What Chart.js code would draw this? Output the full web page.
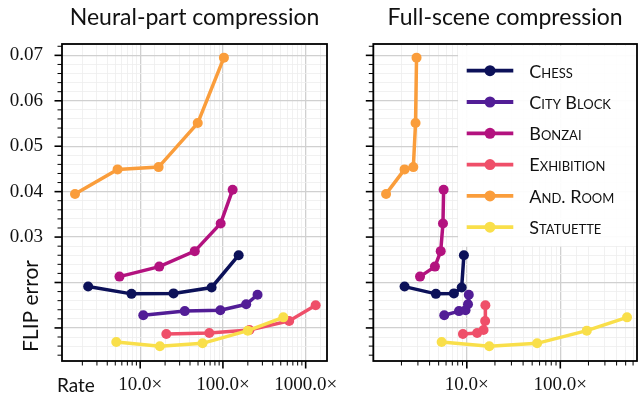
<!DOCTYPE html>
<html>
<head>
<meta charset="utf-8">
<script src="https://cdn.jsdelivr.net/npm/chart.js@4"></script>
<style>
  html, body { margin: 0; padding: 0; overflow: hidden; background: #fff; }
  #wrap { position: relative; width: 644px; height: 400px; overflow: hidden; }
  .pane { position: absolute; top: 0; }
</style>
</head>
<body>
<div id="wrap">
  <div class="pane" style="left:0"><canvas id="neural" width="340" height="400"></canvas></div>
  <div class="pane" style="left:340px"><canvas id="full" width="310" height="400"></canvas></div>
</div>
<script>
// scenes, in legend order
const scenes = ["Chess", "City Block", "Bonzai", "Exhibition", "And. Room", "Statuette"];
const colors = ["#0c1159", "#521d96", "#b3127f", "#ef4f69", "#fa9d3b", "#f9df4a"];

// FLIP error per scene (same settings in both panels)
const chessErr  = [0.0191, 0.0175, 0.0176, 0.0189, 0.0260];
const cityErr   = [0.0128, 0.0137, 0.0139, 0.0152, 0.0173];
const bonzaiErr = [0.0213, 0.0235, 0.0269, 0.0330, 0.0404];
const exhibErr  = [0.00866, 0.00888, 0.00955, 0.01153, 0.0150];
const roomErr   = [0.0395, 0.0449, 0.0454, 0.0551, 0.0695];
const statErr   = [0.0069, 0.00595, 0.00661, 0.0094, 0.01233];

// compression rates, neural part only
const chessNeural  = [2.35, 7.85, 25.3, 73.0, 155];
const cityNeural   = [10.9, 34.6, 93.1, 191, 262];
const bonzaiNeural = [5.62, 17.0, 45.7, 93.9, 131];
const exhibNeural  = [20.7, 68.5, 209, 632, 1321];
const roomNeural   = [1.63, 5.33, 16.7, 49.6, 102.8];
const statNeural   = [5.14, 17.3, 56.7, 200, 537];

// compression rates, full scene
const chessFull  = [2.16, 4.67, 7.28, 8.81, 9.31];
const cityFull   = [5.74, 8.26, 9.69, 10.3, 10.5];
const bonzaiFull = [3.16, 4.56, 5.26, 5.56, 5.65];
const exhibFull  = [9.09, 12.9, 15.1, 15.7, 15.8];
const roomFull   = [1.37, 2.16, 2.68, 2.83, 2.90];
const statFull   = [5.38, 17.4, 56.5, 192, 517];

const errors = [chessErr, cityErr, bonzaiErr, exhibErr, roomErr, statErr];
const neuralRates = [chessNeural, cityNeural, bonzaiNeural, exhibNeural, roomNeural, statNeural];
const fullRates = [chessFull, cityFull, bonzaiFull, exhibFull, roomFull, statFull];

const yTickLabels = [0.03, 0.04, 0.05, 0.06, 0.07];
const xTickLabels = [10, 100, 1000];

const SANS = "Lato, 'Open Sans', sans-serif";
const SERIF = "'Liberation Serif', 'DejaVu Serif', serif";

const isDecade = v => Math.abs(Math.log10(v) - Math.round(Math.log10(v))) < 1e-9;
const isMajorY = v => Math.abs(v / 0.01 - Math.round(v / 0.01)) < 1e-6;

// ticks, frame, extra labels and the in-plot legend
const decor = {
  id: "decor",
  afterDraw(chart, args, opts) {
    const ctx = chart.ctx;
    const area = chart.chartArea;
    const xs = chart.scales.x, ys = chart.scales.y;
    ctx.save();
    ctx.strokeStyle = "#000";

    // y ticks
    for (let k = Math.ceil(ys.min / 0.002); k <= Math.floor(ys.max / 0.002); k++) {
      const py = ys.getPixelForValue(k * 0.002);
      const major = k % 5 === 0;
      ctx.lineWidth = major ? 1.6 : 1;
      ctx.beginPath();
      ctx.moveTo(area.left, py);
      ctx.lineTo(area.left - (major ? 7.5 : 4.5), py);
      ctx.stroke();
    }
    // x ticks
    for (let e = Math.floor(Math.log10(xs.min)); e <= Math.ceil(Math.log10(xs.max)); e++) {
      for (let m = 1; m <= 9; m++) {
        const v = m * Math.pow(10, e);
        const px = xs.getPixelForValue(v);
        if (px < area.left + 1 || px > area.right - 1) continue;
        const major = m === 1;
        ctx.lineWidth = major ? 1.6 : 1;
        ctx.beginPath();
        ctx.moveTo(px, area.bottom);
        ctx.lineTo(px, area.bottom + (major ? 7.5 : 4.5));
        ctx.stroke();
      }
    }

    ctx.fillStyle = "#111";
    if (opts.yTitle) {
      ctx.save();
      ctx.translate(31, 306);
      ctx.rotate(-Math.PI / 2);
      ctx.font = "21px " + SANS;
      ctx.textAlign = "center";
      ctx.textBaseline = "middle";
      ctx.fillText(opts.yTitle, 0, 0);
      ctx.restore();
    }
    if (opts.xTitle) {
      ctx.font = "19px " + SANS;
      ctx.textAlign = "left";
      ctx.textBaseline = "middle";
      ctx.fillText(opts.xTitle, 57, 386);
    }

    if (opts.legend) {
      const bx = 118, by = 46;
      ctx.fillStyle = "rgba(255,255,255,0.92)";
      ctx.fillRect(bx, by, chart.width - bx, 200);
      chart.data.datasets.forEach((ds, i) => {
        const cy = 70.7 + i * 31.3;
        ctx.strokeStyle = ds.borderColor;
        ctx.lineWidth = 3.8;
        ctx.beginPath();
        ctx.moveTo(126.7, cy);
        ctx.lineTo(173.3, cy);
        ctx.stroke();
        ctx.fillStyle = ds.borderColor;
        ctx.beginPath();
        ctx.arc(150, cy, 5.5, 0, Math.PI * 2);
        ctx.fill();
        ctx.fillStyle = "#111";
        ctx.font = "small-caps 400 18px " + SANS;
        ctx.fontVariantCaps = "small-caps";
        ctx.textAlign = "left";
        ctx.textBaseline = "middle";
        ctx.fillText(ds.label, 189.3, cy + 1);
        ctx.fontVariantCaps = "normal";
      });
    }

    // frame
    ctx.strokeStyle = "#000";
    ctx.lineWidth = 1.8;
    ctx.strokeRect(area.left, area.top, area.right - area.left, area.bottom - area.top);
    ctx.restore();
  }
};

function makeChart(id, title, rates, xMin, xMax, yAxisWidth, rightPad, decorOpts, showYLabels) {
  const datasets = scenes.map((name, i) => ({
    label: name,
    data: rates[i].map((r, j) => ({ x: r, y: errors[i][j] })),
    borderColor: colors[i],
    backgroundColor: colors[i],
    pointBackgroundColor: colors[i],
    pointBorderWidth: 0,
    pointRadius: 5,
    borderWidth: 3.5,
    tension: 0,
    order: scenes.length - 1 - i
  }));

  return new Chart(document.getElementById(id), {
    type: "line",
    data: { datasets },
    options: {
      responsive: false,
      animation: false,
      layout: { padding: { left: 0, right: rightPad, top: 0, bottom: 0 } },
      plugins: {
        legend: { display: false },
        tooltip: { enabled: false },
        title: {
          display: true,
          text: title,
          fullSize: false,
          color: "#111",
          font: { family: SANS, size: 23, weight: "normal" },
          padding: { top: 4, bottom: 12.4 }
        },
        decor: decorOpts
      },
      scales: {
        x: {
          type: "logarithmic",
          min: xMin,
          max: xMax,
          border: { display: false },
          grid: {
            drawTicks: false,
            color: c => isDecade(c.tick.value) ? "#d0d0d0" : "#eeeeee",
            lineWidth: c => isDecade(c.tick.value) ? 1.3 : 0.8
          },
          ticks: {
            autoSkip: false,
            maxRotation: 0,
            padding: 13,
            color: "#111",
            font: { family: SERIF, size: 19 },
            callback: v => xTickLabels.includes(v) ? v.toFixed(1) + "×" : ""
          },
          afterFit: s => { s.height = 39; }
        },
        y: {
          type: "linear",
          min: 0.00272,
          max: 0.0725,
          border: { display: false },
          grid: {
            drawTicks: false,
            color: c => isMajorY(c.tick.value) ? "#d0d0d0" : "#eeeeee",
            lineWidth: c => isMajorY(c.tick.value) ? 1.3 : 0.8
          },
          ticks: {
            stepSize: 0.002,
            maxTicksLimit: 100,
            autoSkip: false,
            padding: 19,
            color: "#111",
            font: { family: SERIF, size: 19 },
            callback: v => {
              if (!showYLabels) return "";
              const hit = yTickLabels.find(t => Math.abs(t - v) < 1e-6);
              return hit ? hit.toFixed(2) : "";
            }
          },
          afterFit: s => { s.width = yAxisWidth; }
        }
      }
    },
    plugins: [decor]
  });
}

makeChart("neural", "Neural-part compression", neuralRates, 1.135, 1811, 62, 5,
  { yTitle: "FLIP error", xTitle: "Rate", legend: false }, true);
makeChart("full", "Full-scene compression", fullRates, 1.0, 661, 33.3, 4,
  { legend: true }, false);
</script>
</body>
</html>
